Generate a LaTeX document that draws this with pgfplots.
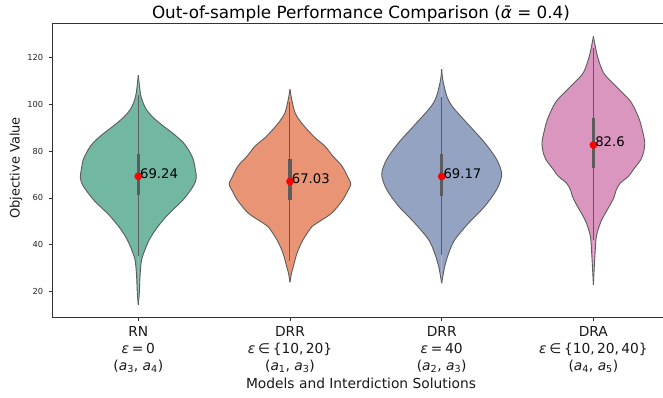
\documentclass[border=0pt]{standalone}
\usepackage{fontspec}
\setmainfont{DejaVu Sans}
\usepackage{pgfplots}
\usepackage{pgfplotstable}
\pgfplotsset{compat=1.18}

\definecolor{vgreen}{HTML}{71B7A1}
\definecolor{vorange}{HTML}{E99575}
\definecolor{vblue}{HTML}{95A3C3}
\definecolor{vpink}{HTML}{DB96C0}
\definecolor{vgray}{HTML}{5C5C5C}

% half-widths w in px (1 category = 151.7 px)
\pgfplotstableread{
y w
14.3 0
19.3 1
26.4 1.7
33.6 3.3
39.3 8
42.1 11
45.0 15
48.0 20
52.1 28
55.5 36
59.3 45
65.0 55
68.6 58
72.1 57
76.4 55
80.7 50
83.6 45
87.1 36
90.7 25
94.3 15
97.8 8
101.5 4
105.0 2
112.4 0
}\vRN
\pgfplotstableread{
y w
24.0 0
27.9 1.5
30.7 3.3
36.4 7
42.1 13
47.8 22
49.3 27
53.6 42
59.3 53
62.4 57
65.7 60.7
67.9 59
73.6 52
77.8 43
82.1 35
85.7 25
89.3 17
92.9 10
96.4 5
102.1 1.7
106.4 0
}\vDRRa
\pgfplotstableread{
y w
23.6 0
30.7 3
36.4 7
42.1 13
49.3 27
56.4 43
63.6 55
70.0 60
76.4 55
83.6 43
90.7 28
97.8 13
101.5 7
105.0 4
110.7 1
115.0 0
}\vDRRb
\pgfplotstableread{
y w
22.9 0
35.0 1.5
43.6 3
49.3 7
52.0 10
55.0 14
58.0 18
60.7 21
63.6 23
66.4 27
69.2 35
72.1 40
76.4 47.5
80.0 50.5
83.6 51.4
87.0 50
93.5 46
100.7 38
105.0 29
109.2 19
113.5 10
120.6 4
129.0 0
}\vDRA

\newcommand{\violin}[3]{%
  \addplot[fill=#3, draw=none, smooth] table[x expr={#1+\thisrow{w}/151.7}, y=y]{#2} -- cycle;
  \addplot[fill=#3, draw=none, smooth] table[x expr={#1-\thisrow{w}/151.7}, y=y]{#2} -- cycle;
  \addplot[draw=vgray, line width=0.9bp, smooth] table[x expr={#1+\thisrow{w}/151.7}, y=y]{#2};
  \addplot[draw=vgray, line width=0.9bp, smooth] table[x expr={#1-\thisrow{w}/151.7}, y=y]{#2};
}

\begin{document}
\begin{tikzpicture}
\begin{axis}[
  at={(0,0)}, anchor=south west,
  scale only axis, width=610.7bp, height=294bp,
  xmin=-0.567, xmax=3.459, ymin=9.04, ymax=134.56,
  axis x line*=box, axis y line*=left,
  axis line style={-, line width=0.8bp, draw=black!80},
  every outer x axis line/.append style={-},
  every outer y axis line/.append style={-},
  xtick={0,1,2,3},
  xticklabels={
    {RN\\{\itshape ε}\hspace{0.2em}=\hspace{0.2em}0\\(\textit{a}\textsubscript{3}, \textit{a}\textsubscript{4})},
    {DRR\\{\itshape ε}\hspace{0.2em}∈\hspace{0.2em}\{10,\,20\}\\(\textit{a}\textsubscript{1}, \textit{a}\textsubscript{3})},
    {DRR\\{\itshape ε}\hspace{0.2em}=\hspace{0.2em}40\\(\textit{a}\textsubscript{2}, \textit{a}\textsubscript{3})},
    {DRA\\{\itshape ε}\hspace{0.2em}∈\hspace{0.2em}\{10,\,20,\,40\}\\(\textit{a}\textsubscript{4}, \textit{a}\textsubscript{5})}},
  ytick={20,40,60,80,100,120},
  xtick pos=bottom, ytick pos=left, tick align=outside,
  major tick length=3.5bp,
  tick style={line width=0.8bp, black!80},
  /pgf/number format/assume math mode=true,
  yticklabel style={font=\fontsize{8.3bp}{10bp}\selectfont, text=black!85, inner sep=0pt, xshift=-5.5bp},
  xticklabel style={align=center, font=\fontsize{13.8bp}{16.8bp}\selectfont, text=black!90, inner sep=0pt, anchor=north, yshift=-5.5bp},
  every axis title/.style={at={(axis description cs:0.5055,1)}, anchor=base, yshift=5bp, font=\fontsize{16.8bp}{20bp}\selectfont, text=black},
  title={Out-of-sample Performance Comparison ({\itshape ᾱ} = 0.4)},
  every axis x label/.style={at={(axis description cs:0.5055,0)}, anchor=base, yshift=-71.5bp, font=\fontsize{13.8bp}{16bp}\selectfont, text=black!90},
  xlabel={Models and Interdiction Solutions},
  every axis y label/.style={at={(axis description cs:0,0.5085)}, xshift=-36.3bp, rotate=90, anchor=center, font=\fontsize{13bp}{15bp}\selectfont, text=black!90},
  ylabel={Objective Value},
  clip=false,
]
\violin{0}{\vRN}{vgreen}
\violin{1}{\vDRRa}{vorange}
\violin{2}{\vDRRb}{vblue}
\violin{3}{\vDRA}{vpink}

% means with value labels
\addplot[only marks, mark=*, mark size=3.6bp, mark options={draw=red, fill=red},
  nodes near coords, point meta=explicit symbolic,
  nodes near coords style={anchor=west, inner sep=0pt, xshift=1.7bp, yshift=3bp,
    font=\fontsize{13.2bp}{15bp}\selectfont, text=black}]
  coordinates {(0,69.24)[69.24] (1,67.03)[67.03] (2,69.17)[69.17] (3,82.6)[82.6]};

% whiskers
\addplot[draw=vgray, line width=1bp] coordinates {(0,35) (0,104)};
\addplot[draw=vgray, line width=1bp] coordinates {(1,33) (1,101)};
\addplot[draw=vgray, line width=1bp] coordinates {(2,35.6) (2,103)};
\addplot[draw=vgray, line width=1bp] coordinates {(3,42) (3,124)};
% boxes
\addplot[draw=vgray, line width=3.2bp] coordinates {(0,61.1) (0,78.8)};
\addplot[draw=vgray, line width=3.2bp] coordinates {(1,59.0) (1,76.8)};
\addplot[draw=vgray, line width=3.2bp] coordinates {(2,61.0) (2,78.8)};
\addplot[draw=vgray, line width=3.2bp] coordinates {(3,72.8) (3,94.3)};
\end{axis}
\pgfresetboundingbox
\path[use as bounding box] (-52.3bp,-80.7bp) rectangle (610.7bp,317.3bp);
\end{tikzpicture}
\end{document}
